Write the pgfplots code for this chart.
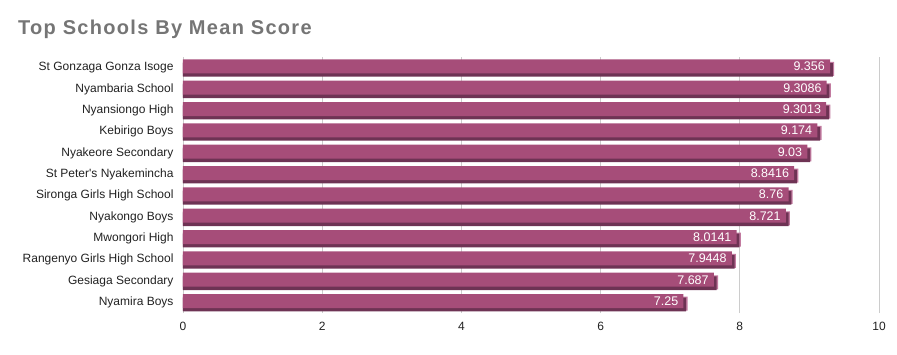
\documentclass[border=0pt]{standalone}
\usepackage{fontspec}
\setmainfont{Liberation Sans}[Ligatures=TeXOff]
\usepackage{pgfplots}
\usepackage{pgfplotstable}
\pgfplotsset{compat=1.18}
\definecolor{barfront}{HTML}{A64D79}
\definecolor{bardark}{HTML}{6E3354}
\definecolor{barlight}{HTML}{C27BA0}
\definecolor{gridc}{HTML}{CCCCCC}
\definecolor{titlec}{HTML}{757575}
\pgfplotstableread{
r v lab
11 9.356 9.356
10 9.3086 9.3086
9 9.3013 9.3013
8 9.174 9.174
7 9.03 9.03
6 8.8416 8.8416
5 8.76 8.76
4 8.721 8.721
3 8.0141 8.0141
2 7.9448 7.9448
1 7.687 7.687
0 7.25 7.25
}\data
\begin{document}
\begin{tikzpicture}
\begin{axis}[
  name=ax,
  scale only axis, width=696pt, height=256pt,
  xmin=0, xmax=10, ymin=-0.5, ymax=11.5,
  xtick={0,2,...,10}, ytick={0,...,11},
  yticklabels={Nyamira Boys,Gesiaga Secondary,Rangenyo Girls High School,Mwongori High,Nyakongo Boys,Sironga Girls High School,St Peter's Nyakemincha,Nyakeore Secondary,Kebirigo Boys,Nyansiongo High,Nyambaria School,St Gonzaga Gonza Isoge},
  xmajorgrids, grid style={gridc, line width=0.8pt},
  axis line style={draw=none},
  major tick length=0pt,
  /pgf/number format/assume math mode=true,
  tick label style={font=\fontsize{12}{14}\selectfont, text=black!87},
  yticklabel style={xshift=-6pt},
  xticklabel style={yshift=-6pt},
  xbar,
]
\addplot[xbar, draw=none, fill=barlight, bar width=14pt, bar shift=-1.3pt] table[x=v, y=r] {\data};
\addplot[xbar, draw=none, fill=bardark, bar width=13.7pt, bar shift=-2.2pt] table[x expr=\thisrow{v}-0.02, y=r] {\data};
\addplot[xbar, draw=none, fill=barfront, bar width=14pt, bar shift=1.3pt,
  point meta=explicit symbolic,
  nodes near coords,
  every node near coord/.style={anchor=east, xshift=-5pt, yshift=1.3pt, text=white, font=\fontsize{12.5}{14}\selectfont, inner sep=0pt}
] table[x expr=\thisrow{v}-0.06, y=r, meta=lab] {\data};
\end{axis}
\node[anchor=base west, inner sep=0pt, text=titlec, font=\bfseries\fontsize{20}{24}\selectfont\addfontfeature{LetterSpace=6.5}] at ([xshift=-165pt,yshift=22pt]ax.north west) {Top Schools By Mean Score};
\pgfresetboundingbox
\path[use as bounding box] ([xshift=-183pt,yshift=-41pt]ax.south west) rectangle ([xshift=18pt,yshift=57pt]ax.north east);
\end{tikzpicture}
\end{document}
